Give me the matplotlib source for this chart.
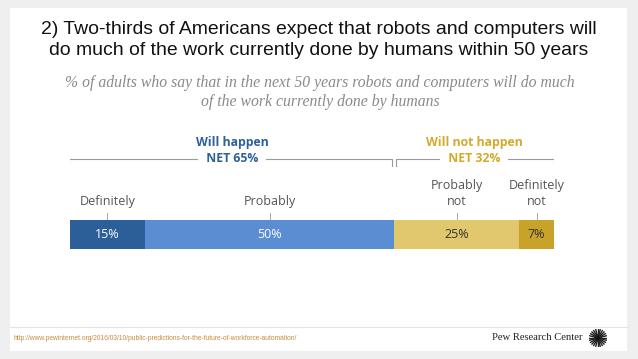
import numpy as np
import matplotlib.pyplot as plt
from matplotlib.patches import Rectangle

# data
categories = ['Definitely', 'Probably', 'Probably\nnot', 'Definitely\nnot']
values = [15, 50, 25, 7]
colors = ['#2c5f98', '#5b8dd2', '#e1c86c', '#c9a22a']
text_colors = ['white', 'white', '#333333', '#333333']
groups = ['Will happen', 'Will not happen']
group_nets = [65, 32]
group_colors = ['#2c6099', '#d4aa2a']

W, H = 638, 359
fig = plt.figure(figsize=(W / 100, H / 100), dpi=100)
fig.patch.set_facecolor('#efefef')


def fx(px):
    return px / W


def fy(py):
    return 1 - py / H


# background panel and footer divider
bg = fig.add_axes([0, 0, 1, 1])
bg.set_xlim(0, W)
bg.set_ylim(H, 0)
bg.axis('off')
bg.add_patch(Rectangle((10, 8), 617, 343, facecolor='white', edgecolor='none'))
bg.plot([10, 627], [327, 327], color='#e4e4e4', lw=0.8)

# title and subtitle
fig.text(fx(319), fy(40), '2) Two-thirds of Americans expect that robots and computers will\n'
         'do much of the work currently done by humans within 50 years',
         ha='center', va='center', fontsize=13.95, family='Liberation Sans',
         color='#111111', linespacing=1.3)
fig.text(fx(320), fy(92.5), '% of adults who say that in the next 50 years robots and computers will do much\n'
         'of the work currently done by humans',
         ha='center', va='center', fontsize=11.3, family='Liberation Serif', style='italic',
         color='#8a8a8a', linespacing=1.17)

# bar chart, x in percent, y in pixel units
ax = fig.add_axes([fx(70), 0, fx(554) - fx(70), 1])
ax.set_xlim(0, sum(values))
ax.set_ylim(H, 0)
ax.axis('off')

left = np.concatenate([[0], np.cumsum(values)[:-1]])
ax.barh(234.5, values, left=left, height=29, color=colors, edgecolor='none')
for l, v, c, tc, cat in zip(left, values, colors, text_colors, categories):
    mid = l + v / 2
    ax.text(mid, 235, f'{v}%', ha='center', va='center', fontsize=9, color=tc,
            family='Open Sans')
    ax.text(mid, 208, cat, ha='center', va='bottom', fontsize=9, color='#555555',
            family='Open Sans', linespacing=1.25)
    ax.plot([mid, mid], [213, 218.5], color='#aaaaaa', lw=0.7)

# net brackets
gap = 0.4
starts = [0, group_nets[0]]
for i, (g, net, gc) in enumerate(zip(groups, group_nets, group_colors)):
    x0 = starts[i] + (gap if i else -0.2)
    x1 = starts[i] + net - (gap if i == 0 else -0.1)
    ax.plot([x0, x0, x1, x1], [166, 159, 159, 166], color='#9a9a9a', lw=0.8)
    mid = starts[i] + net / 2
    ax.text(mid, 142.5, g, ha='center', va='center', fontsize=8.8, fontweight='bold',
            color=gc, family='Open Sans')
    ax.text(mid, 159, f'  NET {net}%  ', ha='center', va='center', fontsize=8.8,
            fontweight='bold', color=gc, family='Open Sans',
            bbox=dict(facecolor='white', edgecolor='none', boxstyle='square,pad=0.15'))

# footer
url = 'http://www.pewinternet.org/2016/03/10/public-predictions-for-the-future-of-workforce-automation/'
fig.text(fx(14), fy(339), url, ha='left', va='center', fontsize=4.75, color='#c98a3c',
         family='Liberation Sans')
fig.text(fx(583), fy(338), 'Pew Research Center', ha='right', va='center', fontsize=7.7,
         family='Liberation Serif', color='#222222')

# sunburst logo
logo = fig.add_axes([fx(589), fy(347), fx(18), 18 / H])
logo.set_xlim(-1, 1)
logo.set_ylim(-1, 1)
logo.axis('off')
for a in np.linspace(0, 2 * np.pi, 24, endpoint=False):
    logo.plot([0.3 * np.cos(a), 0.95 * np.cos(a)], [0.3 * np.sin(a), 0.95 * np.sin(a)],
              color='#222222', lw=1.0)
logo.add_patch(plt.Circle((0, 0), 0.35, color='#111111'))

fig.savefig('out.png', dpi=100, facecolor=fig.get_facecolor())
